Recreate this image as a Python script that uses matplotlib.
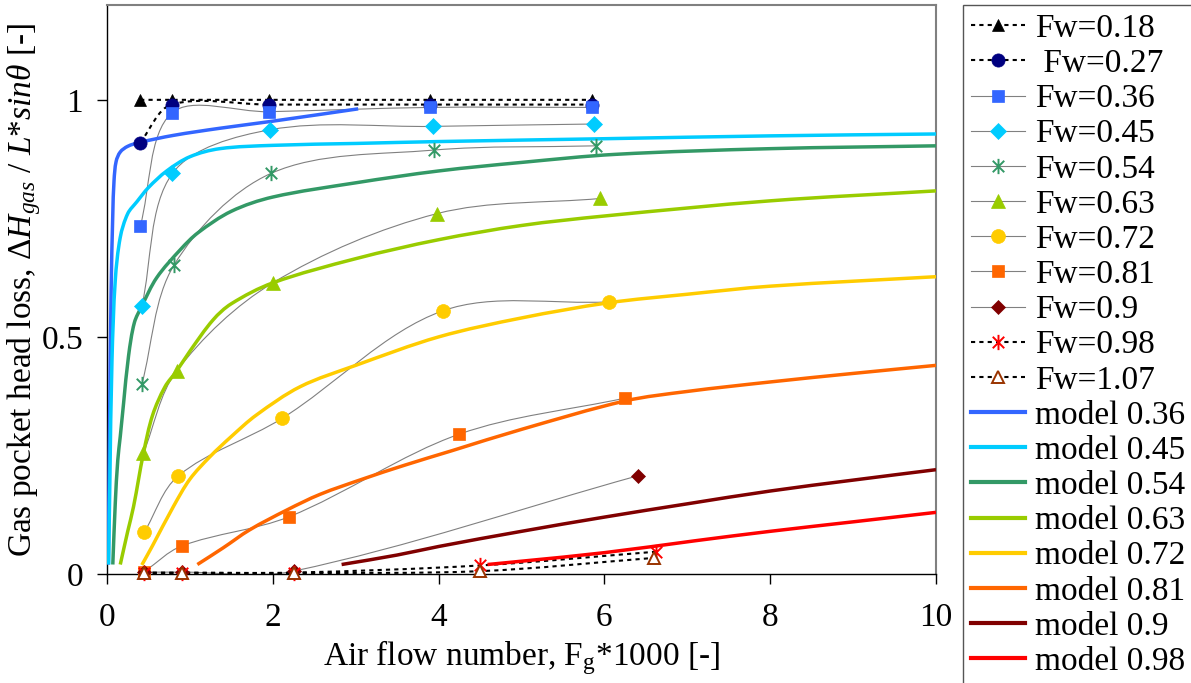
import matplotlib
matplotlib.use("Agg")
import matplotlib.pyplot as plt
import numpy as np
from matplotlib.path import Path
from matplotlib.patches import PathPatch
from matplotlib.lines import Line2D

plt.rcParams['font.family'] = ['Liberation Serif', 'DejaVu Serif']
plt.rcParams['mathtext.fontset'] = 'custom'
plt.rcParams['mathtext.rm'] = 'Liberation Serif'
plt.rcParams['mathtext.it'] = 'Liberation Serif:italic'
plt.rcParams['font.size'] = 24

# measured points (Fw series)
x_018 = [0.40, 0.78, 1.95, 3.90, 5.85]
y_018 = [1.00, 1.00, 1.00, 1.00, 1.00]
x_027 = [0.40, 0.78, 1.95, 3.90, 5.85]
y_027 = [0.91, 0.99, 0.99, 0.99, 0.99]
x_036 = [0.40, 0.78, 1.95, 3.90, 5.85]
y_036 = [0.733, 0.972, 0.975, 0.984, 0.984]
x_045 = [0.42, 0.79, 1.97, 3.93, 5.87]
y_045 = [0.565, 0.845, 0.937, 0.944, 0.949]
x_054 = [0.42, 0.81, 1.98, 3.94, 5.90]
y_054 = [0.40, 0.652, 0.845, 0.894, 0.903]
x_063 = [0.44, 0.84, 2.00, 3.98, 5.95]
y_063 = [0.255, 0.428, 0.614, 0.76, 0.792]
x_072 = [0.45, 0.86, 2.11, 4.05, 6.05]
y_072 = [0.088, 0.207, 0.328, 0.555, 0.574]
x_081 = [0.45, 0.90, 2.20, 4.25, 6.25]
y_081 = [0.005, 0.059, 0.121, 0.295, 0.371]
x_090 = [0.45, 0.90, 2.25, 6.40]
y_090 = [0.004, 0.004, 0.006, 0.207]
x_098 = [0.45, 0.90, 2.25, 4.50, 6.62]
y_098 = [0.003, 0.003, 0.003, 0.018, 0.047]
x_107 = [0.45, 0.90, 2.25, 4.50, 6.60]
y_107 = [0.002, 0.002, 0.002, 0.006, 0.034]

# model curves
mx_036 = [0.016, 0.03, 0.05, 0.07, 0.085, 0.11, 0.16, 0.25, 0.39, 0.8, 1.36, 2.0, 3.03]
my_036 = [0.02, 0.30, 0.60, 0.76, 0.83, 0.87, 0.89, 0.902, 0.91, 0.925, 0.94, 0.955, 0.981]
mx_045 = [0.02, 0.035, 0.06, 0.1, 0.16, 0.25, 0.36, 0.5, 0.72, 1.0, 1.36, 2.0, 3.0, 4.0, 6.0, 8.0, 10.0]
my_045 = [0.02, 0.2, 0.45, 0.62, 0.71, 0.76, 0.785, 0.815, 0.85, 0.88, 0.897, 0.904, 0.908, 0.912, 0.918, 0.924, 0.928]
mx_054 = [0.07, 0.1, 0.13, 0.16, 0.2, 0.26, 0.33, 0.42, 0.6, 0.89, 1.1, 1.5, 2.0, 3.0, 4.0, 5.0, 6.13, 8.0, 10.0]
my_054 = [0.02, 0.15, 0.24, 0.29, 0.36, 0.46, 0.53, 0.565, 0.625, 0.685, 0.72, 0.765, 0.795, 0.825, 0.85, 0.868, 0.885, 0.897, 0.903]
mx_063 = [0.16, 0.25, 0.32, 0.44, 0.55, 0.7, 0.84, 1.0, 1.28, 1.5, 2.0, 3.0, 4.0, 5.0, 6.0, 8.0, 10.0]
my_063 = [0.02, 0.09, 0.142, 0.255, 0.335, 0.395, 0.428, 0.47, 0.536, 0.57, 0.614, 0.665, 0.705, 0.735, 0.755, 0.787, 0.808]
mx_072 = [0.42, 0.55, 0.8, 1.0, 1.24, 1.5, 1.8, 2.33, 3.0, 4.0, 5.0, 6.05, 7.0, 8.0, 10.0]
my_072 = [0.019, 0.06, 0.142, 0.2, 0.247, 0.29, 0.335, 0.395, 0.44, 0.5, 0.54, 0.572, 0.59, 0.607, 0.627]
mx_081 = [1.09, 1.4, 1.72, 2.17, 2.57, 3.08, 3.6, 4.16, 5.0, 6.25, 7.0, 8.0, 9.0, 10.0]
my_081 = [0.02, 0.055, 0.093, 0.135, 0.168, 0.2, 0.23, 0.26, 0.305, 0.365, 0.385, 0.405, 0.423, 0.44]
mx_090 = [2.83, 3.5, 4.0, 5.0, 6.0, 7.0, 8.0, 9.0, 10.0]
my_090 = [0.02, 0.04, 0.058, 0.09, 0.12, 0.148, 0.175, 0.198, 0.22]
mx_098 = [4.59, 5.0, 6.0, 7.09, 8.0, 9.0, 10.0]
my_098 = [0.02, 0.027, 0.045, 0.07, 0.09, 0.11, 0.13]

x_ticks = [0, 2, 4, 6, 8, 10]
y_ticks = [0, 0.5, 1]

# excel style asterisk: vertical bar plus x
star = Path([(0, -1), (0, 1), (-0.75, -0.75), (0.75, 0.75), (-0.75, 0.75), (0.75, -0.75)],
            [Path.MOVETO, Path.LINETO, Path.MOVETO, Path.LINETO, Path.MOVETO, Path.LINETO])

fig = plt.figure(figsize=(11.91, 6.83), dpi=100)
ax = fig.add_axes([107/1191, 109/683, 829/1191, 569/683])
ax.set_xlim(0, 10)
ax.set_ylim(0, 1.2)


def smooth(xs, ys):
    # excel-like smoothed line, bezier through every point
    tr = ax.transData
    p = tr.transform(np.column_stack([xs, ys]))
    n = len(p)
    verts = [p[0]]
    codes = [Path.MOVETO]
    for i in range(n - 1):
        a, b = p[i], p[i + 1]
        l = np.hypot(*(b - a))
        if i > 0:
            lp = np.hypot(*(a - p[i - 1]))
            c1 = a + (b - p[i - 1]) * l / (3 * (lp + l))
        else:
            c1 = a + (b - a) / 3
        if i + 2 < n:
            ln = np.hypot(*(p[i + 2] - b))
            c2 = b - (p[i + 2] - a) * l / (3 * (l + ln))
        else:
            c2 = b - (b - a) / 3
        verts += [c1, c2, b]
        codes += [Path.CURVE4] * 3
    return Path(tr.inverted().transform(np.array(verts)), codes)


gray = '#808080'
dots = (0, (2, 2))
series = [
    ('Fw=0.18', x_018, y_018, '^', 'black', 'black', 9, 'black', dots, 1.5),
    (' Fw=0.27', x_027, y_027, 'o', '#000080', '#000080', 9.5, 'black', dots, 1.5),
    ('Fw=0.36', x_036, y_036, 's', '#3366FF', '#3366FF', 9, gray, '-', 0.8),
    ('Fw=0.45', x_045, y_045, 'D', '#00CCFF', '#00CCFF', 8, gray, '-', 0.8),
    ('Fw=0.54', x_054, y_054, star, 'none', '#339966', 11, gray, '-', 0.8),
    ('Fw=0.63', x_063, y_063, '^', '#99CC00', '#99CC00', 9.5, gray, '-', 0.8),
    ('Fw=0.72', x_072, y_072, 'o', '#FFCC00', '#FFCC00', 10, gray, '-', 0.8),
    ('Fw=0.81', x_081, y_081, 's', '#FF6600', '#FF6600', 9, gray, '-', 0.8),
    ('Fw=0.9', x_090, y_090, 'D', '#800000', '#800000', 7.5, gray, '-', 0.8),
    ('Fw=0.98', x_098, y_098, star, 'none', '#FF0000', 11, 'black', dots, 1.5),
    ('Fw=1.07', x_107, y_107, '^', 'white', '#993300', 9, 'black', dots, 1.5),
]
models = [
    ('model 0.36', mx_036, my_036, '#3366FF'),
    ('model 0.45', mx_045, my_045, '#00CCFF'),
    ('model 0.54', mx_054, my_054, '#339966'),
    ('model 0.63', mx_063, my_063, '#99CC00'),
    ('model 0.72', mx_072, my_072, '#FFCC00'),
    ('model 0.81', mx_081, my_081, '#FF6600'),
    ('model 0.9', mx_090, my_090, '#800000'),
    ('model 0.98', mx_098, my_098, '#FF0000'),
]

handles, labels = [], []
for lab, xs, ys, mk, fc, ec, ms, lc, ls, lw in series:
    ax.add_patch(PathPatch(smooth(xs, ys), fill=False, ec=lc, ls=ls, lw=lw, zorder=2))
    mew = 1.4 if fc in ('none', 'white') else 0.5
    ax.plot(xs, ys, ls='none', marker=mk, ms=ms, mfc=fc, mec=ec, mew=mew, zorder=4, clip_on=False)
    handles.append(Line2D([], [], color=lc, ls=ls, lw=lw, marker=mk, ms=ms, mfc=fc, mec=ec, mew=mew))
    labels.append(lab)

for lab, xs, ys, c in models:
    ax.add_patch(PathPatch(smooth(xs, ys), fill=False, ec=c, lw=2.5, zorder=3))
    handles.append(Line2D([], [], color=c, lw=3))
    labels.append(lab)

ax.set_xticks(x_ticks)
ax.set_yticks(y_ticks)
ax.set_yticklabels(['0', '0.5', '1'])
ax.tick_params(direction='out', length=7.2, width=1, top=False, right=False)
ax.tick_params(axis='x', pad=13)
ax.tick_params(axis='y', pad=10)
for s in ('top', 'right'):
    ax.spines[s].set_color(gray)
    ax.spines[s].set_linewidth(1.5)
for s in ('left', 'bottom'):
    ax.spines[s].set_color('black')
    ax.spines[s].set_linewidth(1)

ax.set_xlabel(r'Air flow number, F$_{\mathrm{g}}$*1000 [-]', va='baseline')
ax.xaxis.set_label_coords(521.5/1191, 18/683, transform=fig.transFigure)
ax.set_ylabel(r'Gas pocket head loss, $\mathit{\Delta H}_{gas}$ / $L{*}sin\theta$ [-]')
ax.yaxis.set_label_coords(43/1191, (683 - 289.5)/683, transform=fig.transFigure)

leg = fig.legend(handles, labels, loc='upper left', bbox_to_anchor=(963/1191, 678/683),
                 fontsize=24, handlelength=1.6, handletextpad=0.3, labelspacing=0.14,
                 borderpad=0.25, borderaxespad=0, fancybox=False, framealpha=1)
leg.get_frame().set_edgecolor('#555555')
leg.get_frame().set_linewidth(1)

fig.savefig('out.png', dpi=100)
